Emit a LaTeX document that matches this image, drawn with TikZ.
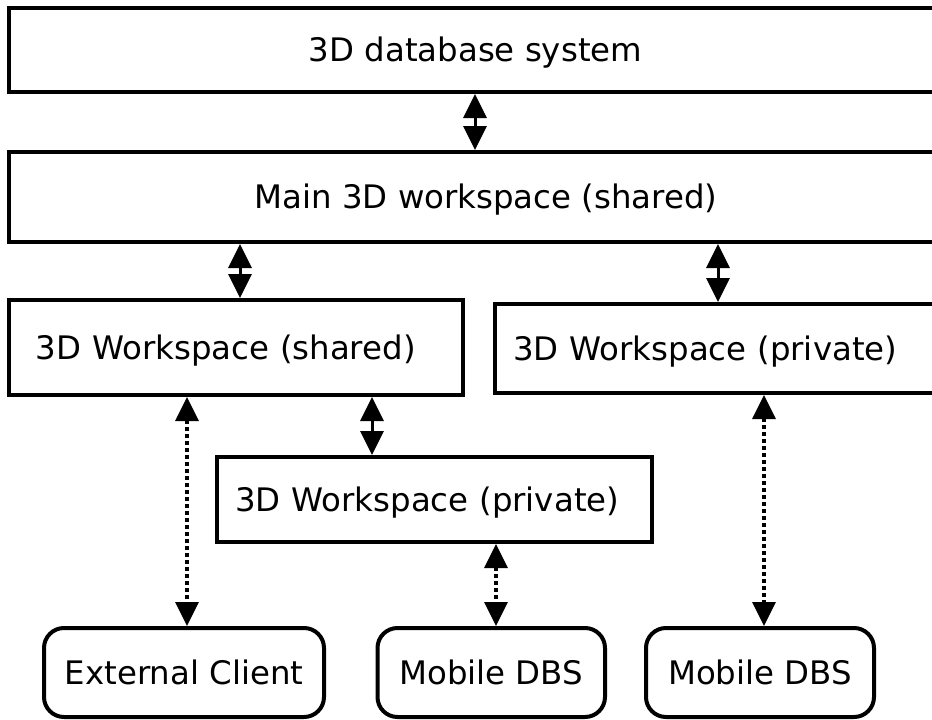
\documentclass[tikz,border=0pt]{standalone}
\usepackage{fontspec}
\setmainfont{DejaVu Sans}
\usetikzlibrary{arrows.meta,calc}
\newcommand{\dfs}{\fontsize{32.4}{38}\selectfont}
\tikzset{
  box/.style={draw, line width=4pt, inner ysep=0pt, inner xsep=0pt, font=\dfs,
    text height=23.6pt, text depth=0pt, align=center},
  lbox/.style={box, align=left},
  rbox/.style={box, rounded corners=20pt},
  tipA/.tip={Triangle[length=24pt,width=23pt]},
  solidarrow/.style={line width=3pt, tipA-tipA},
  dotarrow/.style={line width=3.5pt, dash pattern=on 4pt off 3pt, tipA-tipA}
}
\begin{document}
\begin{tikzpicture}[x=1pt,y=-1pt]
\useasboundingbox (0,0) rectangle (932,720);
% boxes
\node[box, minimum width=933pt, minimum height=84pt] (db) at (475.5,50) {3D database system};
\node[box, minimum width=954pt, minimum height=90pt] (main) at (486,197) {Main 3D workspace (shared)};
\node[lbox, minimum width=453.5pt, minimum height=95pt, inner xsep=26.8pt, text width=399.9pt] (wss) at (235.75,347.5) {3D Workspace (shared)};
\node[lbox, minimum width=465pt, minimum height=89pt, inner xsep=18.2pt, text width=428.6pt] (wsp) at (727.5,348.5) {3D Workspace (private)};
\node[lbox, minimum width=435pt, minimum height=85pt, inner xsep=18.2pt, text width=398.6pt] (wsp2) at (434.5,499.5) {3D Workspace (private)};
\node[rbox, minimum width=280pt, minimum height=89pt] (ext) at (184,672.5) {External Client};
\node[rbox, minimum width=227.5pt, minimum height=89pt] (mob1) at (491.25,672.5) {Mobile DBS};
\node[rbox, minimum width=228pt, minimum height=89pt] (mob2) at (760,672.5) {Mobile DBS};
% x positions of connectors
\coordinate (xa) at (475,0);
\coordinate (xb) at (240,0);
\coordinate (xc) at (718,0);
\coordinate (xd) at (372,0);
\coordinate (xe) at (187,0);
\coordinate (xf) at (496,0);
\coordinate (xg) at (764,0);
% solid connectors
\draw[solidarrow] (db.south -| xa) -- (main.north -| xa);
\draw[solidarrow] (main.south -| xb) -- (wss.north -| xb);
\draw[solidarrow] (main.south -| xc) -- (wsp.north -| xc);
\draw[solidarrow] (wss.south -| xd) -- (wsp2.north -| xd);
% dotted connectors
\draw[dotarrow] (wss.south -| xe) -- (ext.north -| xe);
\draw[dotarrow] (wsp2.south -| xf) -- (mob1.north -| xf);
\draw[dotarrow] (wsp.south -| xg) -- (mob2.north -| xg);
\end{tikzpicture}
\end{document}
